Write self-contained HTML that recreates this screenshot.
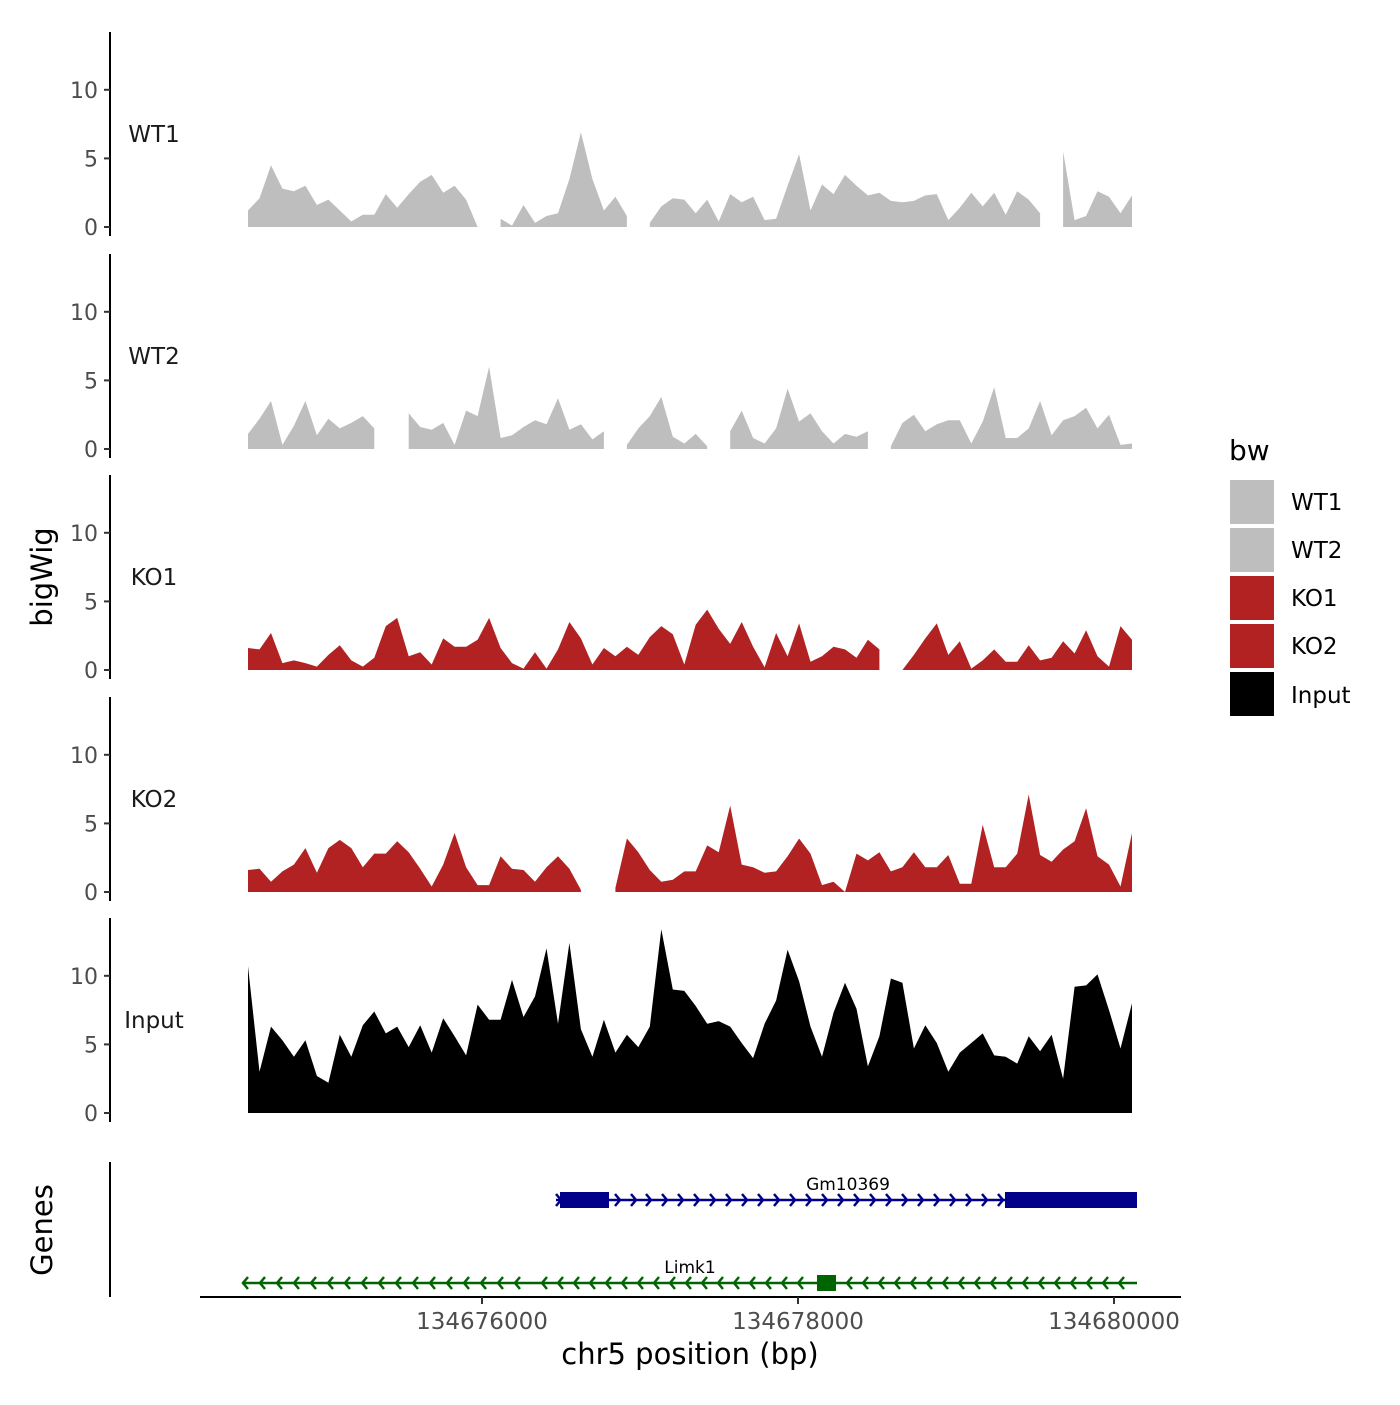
<!DOCTYPE html>
<html><head><meta charset="utf-8"><style>
body{margin:0;background:#fff}
svg text{font-family:"DejaVu Sans","Liberation Sans",sans-serif}
</style></head><body>
<svg id="c" width="1400" height="1400" xmlns="http://www.w3.org/2000/svg"></svg>
<script>
const trackNames = ["WT1","WT2","KO1","KO2","Input"];
const trackColors = ["#bebebe","#bebebe","#b22222","#b22222","#000000"];
const binStart = 134674519;
const binWidth = 72.66;
const wt1 = [1.2,2.1,4.5,2.8,2.6,3.0,1.6,2.0,1.2,0.4,0.9,0.9,2.4,1.4,2.4,3.3,3.8,2.5,3.0,2.0,0,null,0.6,0.1,1.6,0.3,0.8,1.0,3.5,6.9,3.5,1.2,2.2,0.8,null,0.3,1.5,2.1,2.0,1.0,2.0,0.4,2.4,1.8,2.2,0.5,0.6,3.0,5.3,1.2,3.1,2.4,3.8,3.0,2.3,2.5,1.9,1.8,1.9,2.3,2.4,0.5,1.4,2.5,1.5,2.5,0.9,2.6,2.0,1.0,null,5.5,0.5,0.8,2.6,2.2,1.0,2.3];
const wt2 = [1.1,2.2,3.5,0.3,1.7,3.5,1.0,2.2,1.5,1.9,2.4,1.5,null,null,2.6,1.6,1.4,1.9,0.3,2.8,2.4,6.0,0.8,1.0,1.6,2.1,1.8,3.7,1.4,1.8,0.7,1.3,null,0.3,1.5,2.4,3.8,0.9,0.4,1.1,0.2,null,1.3,2.8,0.8,0.4,1.5,4.4,2.0,2.6,1.3,0.4,1.1,0.9,1.3,null,0.2,1.9,2.5,1.3,1.8,2.1,2.1,0.4,2.0,4.5,0.8,0.8,1.5,3.5,1.0,2.1,2.4,3.0,1.5,2.5,0.3,0.4];
const ko1 = [1.6,1.5,2.7,0.5,0.7,0.5,0.25,1.1,1.8,0.7,0.25,0.9,3.2,3.8,1.0,1.3,0.4,2.3,1.7,1.7,2.2,3.8,1.6,0.5,0.1,1.3,0.1,1.5,3.5,2.3,0.4,1.6,1.0,1.7,1.1,2.4,3.2,2.6,0.4,3.3,4.4,3.0,1.9,3.5,1.7,0.2,2.7,1.0,3.4,0.6,1.0,1.7,1.5,0.9,2.2,1.5,null,0,1.1,2.3,3.4,1.1,2.1,0.1,0.7,1.5,0.6,0.6,1.8,0.7,0.9,2.1,1.2,2.9,1.0,0.25,3.2,2.2];
const ko2 = [1.6,1.7,0.75,1.5,2.0,3.2,1.4,3.2,3.8,3.2,1.8,2.8,2.8,3.7,2.9,1.7,0.4,2.0,4.3,1.8,0.5,0.5,2.6,1.7,1.6,0.75,1.8,2.6,1.7,0.15,null,null,0.3,3.9,2.9,1.6,0.75,0.9,1.5,1.5,3.4,2.9,6.3,2.0,1.8,1.4,1.5,2.6,3.9,2.8,0.5,0.75,0,2.8,2.3,2.9,1.5,1.8,2.9,1.8,1.8,2.7,0.6,0.6,4.9,1.8,1.8,2.8,7.1,2.7,2.2,3.1,3.7,6.1,2.6,2.0,0.4,4.3];
const input = [10.7,3.0,6.3,5.3,4.1,5.3,2.7,2.2,5.7,4.1,6.4,7.4,5.8,6.3,4.8,6.4,4.4,6.9,5.6,4.2,7.9,6.8,6.8,9.7,7.0,8.5,12.0,6.5,12.4,6.1,4.1,6.8,4.4,5.7,4.8,6.3,13.4,9.0,8.9,7.8,6.5,6.7,6.3,5.1,4.0,6.5,8.2,11.9,9.6,6.3,4.1,7.3,9.5,7.6,3.4,5.6,9.8,9.5,4.7,6.4,5.1,3.0,4.4,5.1,5.8,4.2,4.1,3.6,5.6,4.5,5.7,2.5,9.2,9.3,10.1,7.5,4.7,8.0];
const trackValues = [wt1,wt2,ko1,ko2,input];
const xTicks = [134676000,134678000,134680000];
const yTicks = [0,5,10];

const NS="http://www.w3.org/2000/svg";
const svg=document.getElementById('c');
function mk(tag,attrs,parent){const e=document.createElementNS(NS,tag);for(const k in attrs)e.setAttribute(k,attrs[k]);(parent||svg).appendChild(e);return e;}
function xs(g){return 482+(g-134676000)*0.158;}
const baselines=[227,449,670,892,1113];
function ys(v,p){return baselines[p]-v*13.72;}

trackNames.forEach((name,p)=>{
  const g=mk('g',{});
  
  
  const vals=trackValues[p];
  let run=[];
  const flush=()=>{
    if(run.length>1){
      let d='M'+xs(run[0][0]).toFixed(1)+','+ys(0,p);
      run.forEach(r=>{d+=' L'+xs(r[0]).toFixed(1)+','+ys(r[1],p).toFixed(1);});
      d+=' L'+xs(run[run.length-1][0]).toFixed(1)+','+ys(0,p)+' Z';
      const a=mk('path',{d:d,fill:trackColors[p]},g);
      
      
    }
    run=[];
  };
  vals.forEach((v,i)=>{const pos=binStart+i*binWidth; if(v===null)flush(); else run.push([pos,v]);});
  flush();
  const b=baselines[p];
  const ax=mk('line',{x1:110,x2:110,y1:b-195,y2:b+9,stroke:'#000','stroke-width':2},g);
  
  
  yTicks.forEach(t=>{
    const y=ys(t,p);
    mk('line',{x1:104,x2:110,y1:y,y2:y,stroke:'#333','stroke-width':2},g);
    const tx=mk('text',{x:98,y:y+8,'text-anchor':'end','font-size':22,fill:'#4d4d4d'},g);
    tx.textContent=t;
    
    
  });
  const lb=mk('text',{x:154,y:b-85,'text-anchor':'middle','font-size':23,fill:'#1a1a1a'},g);
  lb.textContent=name;
  
  
});

const xa=mk('line',{x1:200,x2:1181,y1:1297,y2:1297,stroke:'#000','stroke-width':2});


xTicks.forEach(t=>{
  mk('line',{x1:xs(t),x2:xs(t),y1:1297,y2:1304,stroke:'#333','stroke-width':2});
  const tx=mk('text',{x:xs(t),y:1329,'text-anchor':'middle','font-size':23,fill:'#4d4d4d'});
  tx.textContent=t;
  
  
});
</script>
<svg width="1400" height="1400" style="position:absolute;left:0;top:0" xmlns="http://www.w3.org/2000/svg">
  <line x1="110" x2="110" y1="1162" y2="1297" stroke="#000" stroke-width="2"/>
  <text x="690" y="1364" text-anchor="middle" font-size="29" fill="#000">chr5 position (bp)</text>
  <text transform="translate(52,577) rotate(-90)" text-anchor="middle" font-size="29" fill="#000">bigWig</text>
  <text transform="translate(52,1230) rotate(-90)" text-anchor="middle" font-size="29" fill="#000">Genes</text>
  <g>
    <text x="1229" y="460" font-size="28" fill="#000">bw</text>
    <rect x="1230" y="480" width="44" height="44" fill="#bebebe"/>
    <rect x="1230" y="528" width="44" height="44" fill="#bebebe"/>
    <rect x="1230" y="576" width="44" height="44" fill="#b22222"/>
    <rect x="1230" y="624" width="44" height="44" fill="#b22222"/>
    <rect x="1230" y="672" width="44" height="44" fill="#000"/>
    <text x="1291" y="510" font-size="23">WT1</text>
    <text x="1291" y="558" font-size="23">WT2</text>
    <text x="1291" y="606" font-size="23">KO1</text>
    <text x="1291" y="654" font-size="23">KO2</text>
    <text x="1291" y="703" font-size="23">Input</text>
  </g>
  <g stroke="#00008b" fill="none" stroke-width="2.5">
    <line x1="556" x2="1137" y1="1200" y2="1200"/>
    <path d="M556,1194 l5,6 l-5,6 M615,1194 l5,6 l-5,6 M631,1194 l5,6 l-5,6 M646,1194 l5,6 l-5,6 M662,1194 l5,6 l-5,6 M678,1194 l5,6 l-5,6 M694,1194 l5,6 l-5,6 M710,1194 l5,6 l-5,6 M726,1194 l5,6 l-5,6 M742,1194 l5,6 l-5,6 M758,1194 l5,6 l-5,6 M774,1194 l5,6 l-5,6 M790,1194 l5,6 l-5,6 M806,1194 l5,6 l-5,6 M822,1194 l5,6 l-5,6 M838,1194 l5,6 l-5,6 M854,1194 l5,6 l-5,6 M870,1194 l5,6 l-5,6 M886,1194 l5,6 l-5,6 M902,1194 l5,6 l-5,6 M918,1194 l5,6 l-5,6 M934,1194 l5,6 l-5,6 M950,1194 l5,6 l-5,6 M966,1194 l5,6 l-5,6 M982,1194 l5,6 l-5,6 M998,1194 l5,6 l-5,6"/>
    <rect x="560" y="1192" width="49" height="16" fill="#00008b" stroke="none"/>
    <rect x="1005" y="1192" width="132" height="16" fill="#00008b" stroke="none"/>
    <text x="848" y="1190" text-anchor="middle" font-size="17" fill="#000" stroke="none">Gm10369</text>
  </g>
  <g stroke="#006400" fill="none" stroke-width="2.5">
    <line x1="242" x2="1137" y1="1283" y2="1283"/>
    <path d="M248,1277 l-5,6 l5,6 M265,1277 l-5,6 l5,6 M282,1277 l-5,6 l5,6 M299,1277 l-5,6 l5,6 M316,1277 l-5,6 l5,6 M333,1277 l-5,6 l5,6 M350,1277 l-5,6 l5,6 M367,1277 l-5,6 l5,6 M384,1277 l-5,6 l5,6 M401,1277 l-5,6 l5,6 M418,1277 l-5,6 l5,6 M435,1277 l-5,6 l5,6 M452,1277 l-5,6 l5,6 M469,1277 l-5,6 l5,6 M486,1277 l-5,6 l5,6 M503,1277 l-5,6 l5,6 M520,1277 l-5,6 l5,6 M547,1277 l-5,6 l5,6 M563,1277 l-5,6 l5,6 M579,1277 l-5,6 l5,6 M595,1277 l-5,6 l5,6 M611,1277 l-5,6 l5,6 M627,1277 l-5,6 l5,6 M643,1277 l-5,6 l5,6 M659,1277 l-5,6 l5,6 M675,1277 l-5,6 l5,6 M691,1277 l-5,6 l5,6 M707,1277 l-5,6 l5,6 M723,1277 l-5,6 l5,6 M739,1277 l-5,6 l5,6 M755,1277 l-5,6 l5,6 M771,1277 l-5,6 l5,6 M787,1277 l-5,6 l5,6 M803,1277 l-5,6 l5,6 M852,1277 l-5,6 l5,6 M868,1277 l-5,6 l5,6 M884,1277 l-5,6 l5,6 M900,1277 l-5,6 l5,6 M916,1277 l-5,6 l5,6 M932,1277 l-5,6 l5,6 M948,1277 l-5,6 l5,6 M964,1277 l-5,6 l5,6 M980,1277 l-5,6 l5,6 M996,1277 l-5,6 l5,6 M1012,1277 l-5,6 l5,6 M1028,1277 l-5,6 l5,6 M1044,1277 l-5,6 l5,6 M1060,1277 l-5,6 l5,6 M1076,1277 l-5,6 l5,6 M1092,1277 l-5,6 l5,6 M1108,1277 l-5,6 l5,6 M1124,1277 l-5,6 l5,6"/>
    <rect x="817" y="1275" width="19" height="16" fill="#006400" stroke="none"/>
    <text x="690" y="1273" text-anchor="middle" font-size="17" fill="#000" stroke="none">Limk1</text>
  </g>
</svg>
</body></html>
